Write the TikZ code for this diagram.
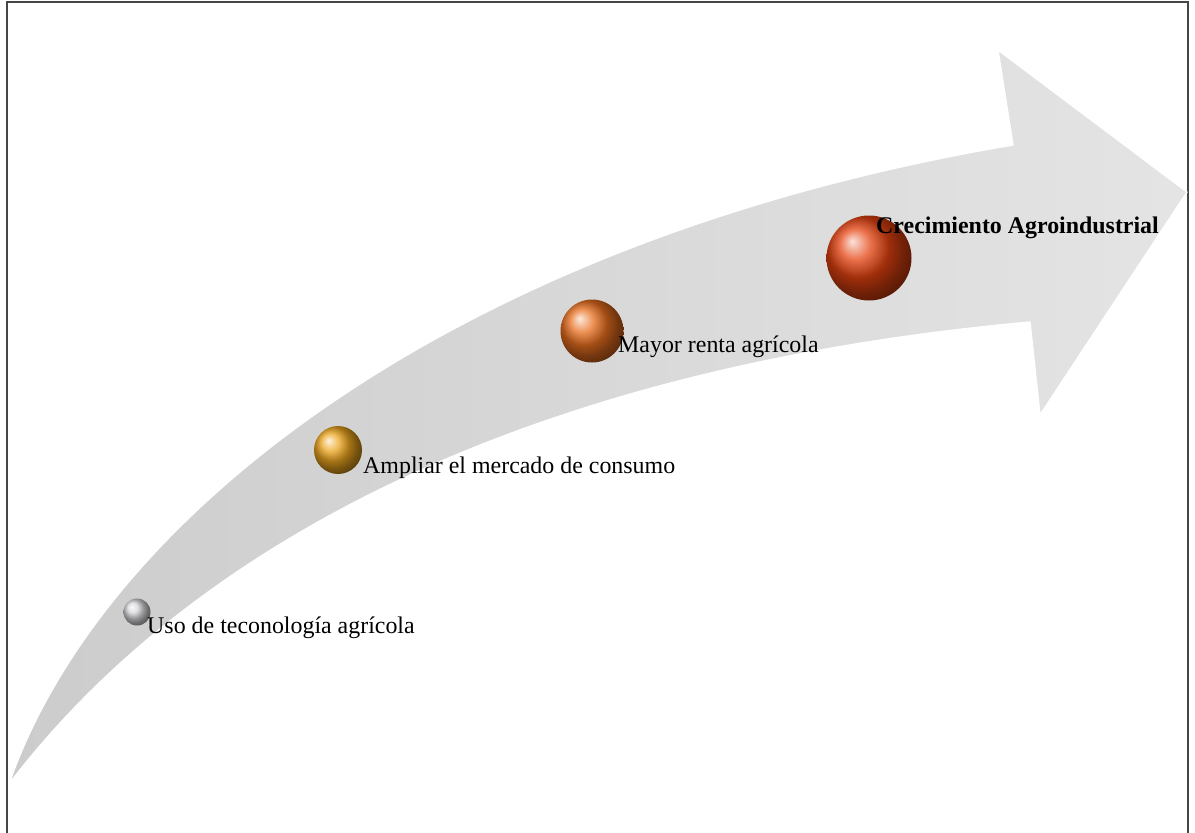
\documentclass[tikz,border=0pt]{standalone}
\usepackage{fontspec}
\setmainfont{Liberation Serif}
\usepackage{tikz}
\usetikzlibrary{shadings}
\definecolor{silverball}{RGB}{215,215,220}
\definecolor{goldball}{RGB}{236,165,30}
\definecolor{orangeball}{RGB}{232,110,30}
\definecolor{redball}{RGB}{228,66,16}
\definecolor{framegray}{RGB}{70,70,70}

\begin{document}
\begin{tikzpicture}[
    x=0.03cm, y=-0.03cm,
    font=\fontsize{20.4}{24}\selectfont,
    ball/.style={
      circle, shading=ball, inner sep=0pt
    },
    lbl/.style={
      anchor=base west, inner sep=0pt
    }
  ]
    \useasboundingbox (0,0) rectangle (1195,832);
    \begin{scope}
      \clip (0,0) rectangle (1195,832);
      \draw[framegray, line width=1.2pt] (7,2) rectangle (1188,860);
    \end{scope}

    \path[left color=gray!40, right color=gray!21, draw=white, line width=1.2pt, line join=round]
      (9,784) .. controls (100,520) and (450,240) .. (1013,145)
      -- (998,50) -- (1187,192) -- (1040,415) -- (1030,322)
      .. controls (500,370) and (180,560) .. (9,784) -- cycle;

    \node[ball, ball color=silverball, minimum size=0.81cm] (uso) at (137,612) {};
    \node[ball, ball color=goldball, minimum size=1.44cm] (ampliar) at (338,450) {};
    \node[ball, ball color=orangeball, minimum size=1.89cm] (renta) at (592,331) {};
    \node[ball, ball color=redball, minimum size=2.55cm] (crec) at (869,258) {};

    \node[lbl] (usotxt) at (147,633) {Uso de teconología agrícola};
    \node[lbl] (ampliartxt) at (363,473) {Ampliar el mercado de consumo};
    \node[lbl] (rentatxt) at (618,352) {Mayor renta agrícola};
    \node[lbl, font=\fontsize{20.4}{24}\selectfont\bfseries] (crectxt) at (876,233) {Crecimiento Agroindustrial};
  \end{tikzpicture}
\end{document}
